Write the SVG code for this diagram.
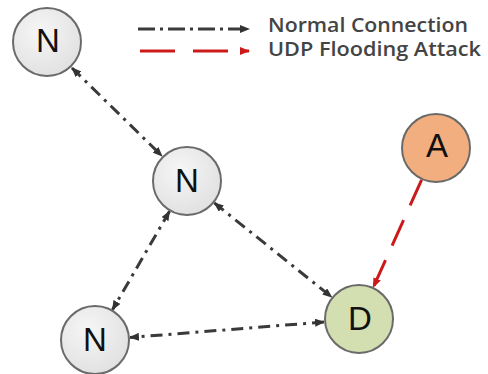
<svg xmlns="http://www.w3.org/2000/svg" width="488" height="374" viewBox="0 0 488 374">
  <defs>
    <radialGradient id="gGray" cx="0.4" cy="0.35" r="0.7">
      <stop offset="0" stop-color="#f6f6f6"/>
      <stop offset="1" stop-color="#e0e0e0"/>
    </radialGradient>
    <marker id="arrBlack" viewBox="0 0 10 8" refX="9" refY="4" markerWidth="10" markerHeight="8" markerUnits="userSpaceOnUse" orient="auto-start-reverse">
      <path d="M0,0 L10,4 L0,8 Z" fill="#333"/>
    </marker>
    <marker id="arrRed" viewBox="0 0 10 8" refX="9" refY="4" markerWidth="10" markerHeight="8" markerUnits="userSpaceOnUse" orient="auto">
      <path d="M0,0 L10,4 L0,8 Z" fill="#cc1a1a"/>
    </marker>
  </defs>
  <style>
    .node circle { stroke: #6a6a6a; stroke-width: 2; }
    .n circle { fill: url(#gGray); }
    .a circle { fill: #f2ae7e; }
    .d circle { fill: #d3dfb0; }
    .node text { font-family: "Liberation Sans", Arial, sans-serif; font-size: 33px; fill: #111; text-anchor: middle; }
    .normal { stroke: #3a3a3a; stroke-width: 3; fill: none; stroke-dasharray: 12 6 3 6; marker-start: url(#arrBlack); marker-end: url(#arrBlack); }
    .attack { stroke: #cc1a1a; stroke-width: 3; fill: none; stroke-dasharray: 28 16; marker-end: url(#arrRed); }
    .legend text { font-family: "Open Sans", "DejaVu Sans", sans-serif; font-weight: 600; font-size: 19px; fill: #444; }
  </style>

  <rect width="488" height="374" fill="#fff"/>

  <!-- legend -->
  <g id="legend" class="legend">
    <line x1="138" y1="29" x2="249" y2="29" stroke="#3a3a3a" stroke-width="3" stroke-dasharray="17 5 3 5" marker-end="url(#arrBlack)"/>
    <line x1="140" y1="51" x2="249" y2="51" stroke="#cc1a1a" stroke-width="3" stroke-dasharray="35 18" marker-end="url(#arrRed)"/>
    <text x="268" y="32" textLength="200" lengthAdjust="spacingAndGlyphs">Normal Connection</text>
    <text x="268" y="56" textLength="213" lengthAdjust="spacingAndGlyphs">UDP Flooding Attack</text>
  </g>

  <!-- connectors -->
  <g id="connectors">
    <line class="normal" x1="72" y1="68" x2="162" y2="156"/>
    <line class="normal" x1="169.5" y1="211.3" x2="112.5" y2="309.7"/>
    <line class="normal" x1="214.3" y1="202.9" x2="331.7" y2="297.1"/>
    <line class="normal" x1="324" y1="322" x2="130" y2="337.5"/>
    <line class="attack" x1="421.6" y1="179.9" x2="373.4" y2="287.1"/>
  </g>

  <!-- nodes -->
  <g id="node-n1" class="node n">
    <circle cx="47" cy="42" r="34"/>
    <text x="48" y="52">N</text>
  </g>
  <g id="node-n2" class="node n">
    <circle cx="187" cy="181" r="34"/>
    <text x="187" y="192">N</text>
  </g>
  <g id="node-n3" class="node n">
    <circle cx="95" cy="340" r="34"/>
    <text x="95" y="351">N</text>
  </g>
  <g id="node-a" class="node a">
    <circle cx="436" cy="148" r="34"/>
    <text x="437" y="157">A</text>
  </g>
  <g id="node-d" class="node d">
    <circle cx="359" cy="319" r="34"/>
    <text x="360" y="330">D</text>
  </g>
</svg>
